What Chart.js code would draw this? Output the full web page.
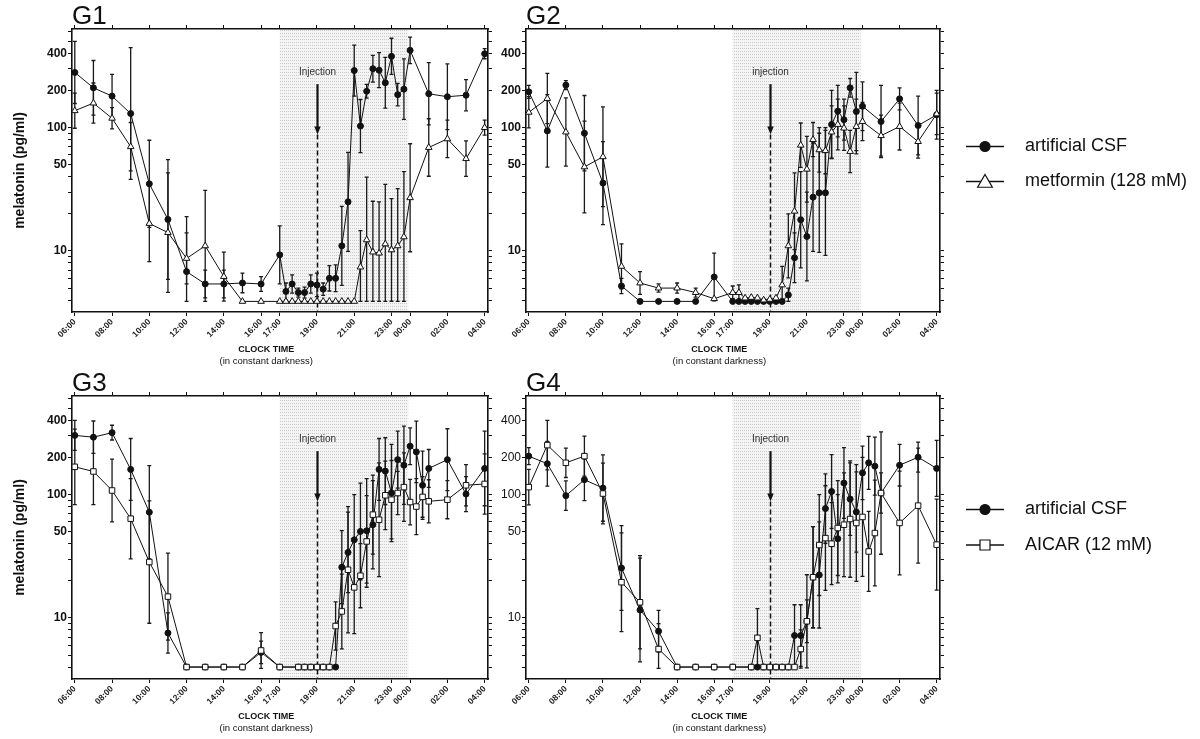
<!DOCTYPE html>
<html>
<head>
<meta charset="utf-8">
<script src="https://cdn.jsdelivr.net/npm/chart.js@4.4.1/dist/chart.umd.min.js"></script>
<style>
html, body { margin: 0; padding: 0; background: #fff; }
#wrap { position: relative; width: 1200px; height: 739px; overflow: hidden; }
canvas { position: absolute; }
</style>
</head>
<body>
<div id="wrap">
  <canvas id="g1" width="500" height="370" style="left:0px;top:0px"></canvas>
  <canvas id="g2" width="720" height="370" style="left:480px;top:0px"></canvas>
  <canvas id="g3" width="500" height="370" style="left:0px;top:367px"></canvas>
  <canvas id="g4" width="720" height="370" style="left:480px;top:367px"></canvas>
</div>
<script>
// sampling times, hours after 06:00 (hourly, every 20 min from 17:00 to 01:00, then hourly)
var hours = [0,1,2,3,4,5,6,7,8,9,10,11,11.333,11.667,12,12.333,12.667,13,13.333,13.667,14,14.333,14.667,
  15,15.333,15.667,16,16.333,16.667,17,17.333,17.667,18,18.333,18.667,19,20,21,22];

var tickHours = [0,2,4,6,8,10,11,13,15,17,18,20,22];
var tickLabels = ['06:00','08:00','10:00','12:00','14:00','16:00','17:00','19:00','21:00','23:00','00:00','02:00','04:00'];
var yTicks = [4,5,6,7,8,9,10,20,30,40,50,60,70,80,90,100,200,300,400,500,600];
var yLabelled = [10,50,100,200,400];

var darkFrom = 11, darkTo = 17.9;   // shaded part (17:00 - 00:00)
var injectAt = 13;                  // 19:00

// G1 : artificial CSF / metformin
var g1Csf = [280,210,180,130,35,18,6.8,5.4,5.4,5.5,5.4,
  9.3,4.7,5.4,4.6,4.6,5.4,5.3,4.9,6.0,6.0,11,25,290,103,197,300,292,231,378,185,205,423,null,null,
  188,178,183,397];
var g1CsfHi = [500,350,270,445,79,55,19,7,7,6.6,6.2,
  16,5.5,6.4,5,5.1,6.4,6.6,5.5,7.6,7.7,23,63,467,169,224,385,405,371,530,228,361,542,null,null,
  336,329,245,436];
var g1Met = [137,158,119,70,16.7,14.1,8.7,11,6.2,3.9,3.9,
  3.9,3.9,3.9,3.9,3.9,3.9,3.9,3.9,3.9,3.9,3.9,3.9,3.9,7.4,12.3,9.8,9.6,11.4,10.2,11,13,27,null,null,
  69,81,56,100];
var g1MetHi = [190,230,145,110,34,43,14,31,9.8,null,null,
  null,null,null,null,null,null,null,null,null,null,null,null,null,14.6,39.7,25.3,25,34.6,26.6,32,43.9,74,null,null,
  118,115,78,115];

// G2 : artificial CSF / metformin
var g2Csf = [195,94,221,90,35.5,5.2,3.9,3.9,3.9,3.9,6.15,
  3.9,3.9,3.9,3.9,3.9,3.9,3.9,3.9,3.9,4.4,8.8,17.9,13.1,27.3,29.6,29.6,106,136,116,210,135,149,null,null,
  112,171,104,127];
var g2CsfHi = [220,185,240,182,77,6,null,null,null,null,9.6,
  null,null,null,null,null,null,null,null,null,5,14,44,30,75,90,95,200,220,170,250,280,235,null,null,
  220,210,180,200];
var g2Met = [133,172,92,48,58,7.5,5.5,5.0,5.0,4.6,4.1,
  4.6,4.6,4.15,4.2,4.15,4.0,4.05,4.15,5.3,11,21,72,46,80,66,65,92,106,99,64,102,112,null,null,
  86,102,77,129];
var g2MetHi = [178,275,174,113,147,11.4,6.8,5.4,5.5,5.0,null,
  5.2,5.3,null,null,null,null,null,null,7.5,20,43,109,85,110,100,100,150,170,150,95,170,160,null,null,
  126,158,105,190];

// G3 : artificial CSF / AICAR
var g3Csf = [302,292,318,160,72,7.55,4,4,4,4,5.26,
  4,null,null,4,4,4,4,4,4,4,25.8,34,43,50.3,50.9,57,160,155,103,192,173,247,222,119,
  163,192,101,163];
var g3CsfHi = [400,395,365,285,172,11,null,null,null,null,6.5,
  null,null,null,null,null,null,null,null,null,null,51,72,100,124,135,130,285,289,255,327,359,348,394,225,
  232,342,140,327];
var g3Aic = [168,154,108,63.8,28.4,14.9,4,4,4,4,5.45,
  4,null,null,4,4,4,4,4,4,8.6,11.3,24.6,17.7,22,41.7,68.8,62.6,98.7,91,103,115,87,80,95.8,
  88.2,91,119,122];
var g3AicHi = [340,286,194,135,89,33.6,null,null,null,null,7.6,
  null,null,null,null,null,null,null,null,null,13.5,22.7,80,42,40,98,144,181,187,189,154,218,133,135,140,
  132,130,175,214];

// G4 : artificial CSF / AICAR
var g4Csf = [205,178,98,132,113,25.4,11.6,7.8,4,4,4,
  4,null,null,4,4,4,4,4,4,4,7.2,7.2,9.4,21.4,22.3,77,106,43.9,124,92,72.3,150,181,170,
  103,173,201,163];
var g4CsfHi = [240,270,129,195,210,56,30.6,11.5,null,null,null,
  null,null,null,null,null,null,null,null,null,null,12.8,12.8,22.4,55,60,147,211,100,240,181,153,247,297,292,
  323,255,266,275];
var g4Aic = [115,252,181,205,102,19.5,13.4,5.6,4,4,4,
  4,null,null,4,6.9,4,4,4,4,4,4,5.6,9.4,21.4,39,44.4,40,53.6,57,63.4,58.9,65.9,34.6,48.8,
  103,58.9,81.4,39.3];
var g4AicHi = [160,400,238,298,180,49,32,9,null,null,null,
  null,null,null,null,11.9,null,null,null,null,null,null,8,14,55,100,118,86,130,150,188,175,200,73,131,
  150,155,238,92];

var FONT = 'Arial, "Liberation Sans", Helvetica, sans-serif';
var INK = '#111';

function shadeFill(ctx) {
  var c = document.createElement('canvas');
  c.width = 2; c.height = 3;
  var p = c.getContext('2d');
  p.fillStyle = '#f4f4f4'; p.fillRect(0, 0, 2, 3);
  p.fillStyle = '#c9c9c9'; p.fillRect(0, 0, 1, 1);
  return ctx.createPattern(c, 'repeat');
}

function marker(ctx, style, x, y, r, fill) {
  ctx.beginPath();
  if (style === 'circle') {
    ctx.arc(x, y, r, 0, Math.PI * 2);
  } else if (style === 'triangle') {
    ctx.moveTo(x, y - r);
    ctx.lineTo(x + r * 0.866, y + r * 0.5);
    ctx.lineTo(x - r * 0.866, y + r * 0.5);
    ctx.closePath();
  } else {
    ctx.rect(x - r, y - r, 2 * r, 2 * r);
  }
  ctx.fillStyle = fill; ctx.fill();
  ctx.lineWidth = 1.2; ctx.strokeStyle = INK; ctx.stroke();
}

var panelPlugin = {
  id: 'panel',
  beforeDraw: function(chart, args, o) {
    var ctx = chart.ctx, a = chart.chartArea, x = chart.scales.x;
    var x0 = x.getPixelForValue(darkFrom), x1 = x.getPixelForValue(darkTo);
    ctx.save();
    ctx.fillStyle = shadeFill(ctx);
    ctx.fillRect(x0, a.top, x1 - x0, a.bottom - a.top);
    ctx.restore();
  },
  beforeDatasetsDraw: function(chart, args, o) {
    var ctx = chart.ctx, a = chart.chartArea, x = chart.scales.x, y = chart.scales.y;
    ctx.save();
    // injection marker
    var xi = Math.round(x.getPixelForValue(injectAt)) + 0.5;
    var yTip = y.getPixelForValue(88), yTop = y.getPixelForValue(225);
    ctx.strokeStyle = INK; ctx.fillStyle = INK;
    ctx.lineWidth = 1.5; ctx.setLineDash([5, 3]);
    ctx.beginPath(); ctx.moveTo(xi, yTip); ctx.lineTo(xi, a.bottom); ctx.stroke();
    ctx.setLineDash([]); ctx.lineWidth = 2.2;
    ctx.beginPath(); ctx.moveTo(xi, yTop); ctx.lineTo(xi, yTip - 6); ctx.stroke();
    ctx.beginPath(); ctx.moveTo(xi - 3.2, yTip - 8); ctx.lineTo(xi + 3.2, yTip - 8); ctx.lineTo(xi, yTip); ctx.closePath(); ctx.fill();
    ctx.fillStyle = '#333'; ctx.font = '10px ' + FONT;
    ctx.textAlign = 'center'; ctx.textBaseline = 'middle';
    ctx.fillText(o.injectText, xi, y.getPixelForValue(280));

    // error bars (symmetric on the log axis, cut at the assay floor)
    ctx.beginPath(); ctx.rect(a.left, a.top, a.right - a.left, a.bottom - a.top); ctx.clip();
    ctx.strokeStyle = '#1a1a1a'; ctx.lineWidth = 1.3;
    chart.data.datasets.forEach(function(ds) {
      ds.errHi.forEach(function(h, i) {
        var v = ds.data[i].y;
        if (h == null || v == null) return;
        var lo = Math.max(v * v / h, 3.9);
        var px = x.getPixelForValue(ds.data[i].x);
        var pt = y.getPixelForValue(h), pb = y.getPixelForValue(lo);
        ctx.beginPath();
        ctx.moveTo(px, pt); ctx.lineTo(px, pb);
        ctx.moveTo(px - 2, pt); ctx.lineTo(px + 2, pt);
        ctx.moveTo(px - 2, pb); ctx.lineTo(px + 2, pb);
        ctx.stroke();
      });
    });
    ctx.restore();
  },
  afterDraw: function(chart, args, o) {
    var ctx = chart.ctx, a = chart.chartArea;
    ctx.save();
    ctx.fillStyle = INK;
    ctx.textAlign = 'left'; ctx.textBaseline = 'alphabetic';
    ctx.font = '26px ' + FONT;
    ctx.fillText(o.title, a.left, 24);

    var cx = a.left + 0.467 * (a.right - a.left);
    ctx.textAlign = 'center'; ctx.textBaseline = 'middle';
    ctx.font = 'bold 9px ' + FONT;
    ctx.fillText('CLOCK TIME', cx, a.bottom + 38);
    ctx.font = '9.5px ' + FONT;
    ctx.fillText('(in constant darkness)', cx, a.bottom + 49);

    if (o.legend) {
      var lx = a.right + 26;
      chart.data.datasets.forEach(function(ds, k) {
        var ly = o.legendY[k];
        ctx.strokeStyle = INK; ctx.lineWidth = 1.5;
        ctx.beginPath(); ctx.moveTo(lx, ly); ctx.lineTo(lx + 38, ly); ctx.stroke();
        var r = ds.pointStyle === 'circle' ? 5 : (ds.pointStyle === 'triangle' ? 8.5 : 5);
        marker(ctx, ds.pointStyle, lx + 19, ly + (ds.pointStyle === 'triangle' ? 1.5 : 0), r, ds.pointBackgroundColor);
        ctx.fillStyle = INK; ctx.font = '18px ' + FONT;
        ctx.textAlign = 'left'; ctx.textBaseline = 'middle';
        ctx.fillText(ds.label, lx + 59, ly);
      });
    }
    ctx.restore();
  }
};

function axisBox(pos, type, showLabels, extra) {
  var s = {
    type: type, position: pos, display: true,
    grid: { drawOnChartArea: false, drawTicks: true, tickLength: 4, color: INK, lineWidth: 1 },
    border: { display: true, color: INK, width: 1.6 },
    ticks: { display: showLabels, autoSkip: false }
  };
  for (var k in extra) s[k] = extra[k];
  return s;
}

function panel(id, cfg) {
  var sets = cfg.series.map(function(s, k) {
    return {
      label: s.name,
      data: hours.map(function(h, i) { return { x: h, y: s.values[i] }; }),
      errHi: s.hi,
      order: k === 0 ? 1 : 0,          // open markers drawn over the filled ones
      borderColor: INK, borderWidth: 1,
      pointStyle: s.style, pointRadius: s.r,
      pointBackgroundColor: s.fill, pointBorderColor: INK, pointBorderWidth: 1,
      spanGaps: true, tension: 0
    };
  });

  var xTickSet = function(axis) { axis.ticks = tickHours.map(function(v) { return { value: v }; }); };
  var yTickSet = function(axis) { axis.ticks = yTicks.map(function(v) { return { value: v }; }); };

  var x = axisBox('bottom', 'linear', true, { min: -0.15, max: 22.18, afterBuildTicks: xTickSet,
    afterFit: function(axis) { axis.height = 58; } });
  x.ticks.minRotation = 45; x.ticks.maxRotation = 45; x.ticks.padding = 1;
  x.ticks.color = '#222';
  x.ticks.font = { family: FONT, size: 8.5, weight: 'bold' };
  x.ticks.callback = function(v) { return tickLabels[tickHours.indexOf(v)]; };

  var x2 = axisBox('top', 'linear', false, { min: -0.15, max: 22.18, afterBuildTicks: xTickSet,
    afterFit: function(axis) { axis.height = 29; } });

  var y = axisBox('left', 'logarithmic', true, { min: 3.2, max: 630, afterBuildTicks: yTickSet,
    afterFit: function(axis) { axis.width = cfg.left; } });
  y.ticks.padding = 1; y.ticks.color = INK;
  y.ticks.font = { family: FONT, size: 12, weight: cfg.boldY ? 'bold' : 'normal' };
  y.ticks.callback = function(v) { return yLabelled.indexOf(v) >= 0 ? String(v) : ''; };
  y.title = { display: cfg.yTitle, text: 'melatonin (pg/ml)', color: INK,
    font: { family: FONT, size: 14, weight: 'bold' }, padding: { top: 12, bottom: 0 } };

  var y2 = axisBox('right', 'logarithmic', false, { min: 3.2, max: 630, afterBuildTicks: yTickSet,
    afterFit: function(axis) { axis.width = cfg.right; } });

  return new Chart(document.getElementById(id).getContext('2d'), {
    type: 'line',
    data: { datasets: sets },
    options: {
      responsive: false, animation: false, events: [],
      layout: { padding: 0 },
      scales: { x: x, x2: x2, y: y, y2: y2 },
      plugins: {
        legend: { display: false }, tooltip: { enabled: false },
        panel: { title: cfg.title, injectText: cfg.inject, legend: cfg.legend, legendY: cfg.legendY }
      }
    },
    plugins: [panelPlugin]
  });
}

var csf = 'artificial CSF';
panel('g1', { title: 'G1', inject: 'Injection', left: 72, right: 12, yTitle: true, boldY: true, legend: false,
  series: [
    { name: csf, values: g1Csf, hi: g1CsfHi, style: 'circle', r: 3, fill: INK },
    { name: 'metformin (128 mM)', values: g1Met, hi: g1MetHi, style: 'triangle', r: 3.8, fill: '#fff' }
  ] });
panel('g2', { title: 'G2', inject: 'injection', left: 46, right: 260, yTitle: false, boldY: true,
  legend: true, legendY: [146.5, 181.5],
  series: [
    { name: csf, values: g2Csf, hi: g2CsfHi, style: 'circle', r: 3, fill: INK },
    { name: 'metformin (128 mM)', values: g2Met, hi: g2MetHi, style: 'triangle', r: 3.8, fill: '#fff' }
  ] });
panel('g3', { title: 'G3', inject: 'Injection', left: 72, right: 12, yTitle: true, boldY: true, legend: false,
  series: [
    { name: csf, values: g3Csf, hi: g3CsfHi, style: 'circle', r: 3, fill: INK },
    { name: 'AICAR (12 mM)', values: g3Aic, hi: g3AicHi, style: 'rect', r: 3.9, fill: '#fff' }
  ] });
panel('g4', { title: 'G4', inject: 'Injection', left: 46, right: 260, yTitle: false, boldY: false,
  legend: true, legendY: [142.5, 178],
  series: [
    { name: csf, values: g4Csf, hi: g4CsfHi, style: 'circle', r: 3, fill: INK },
    { name: 'AICAR (12 mM)', values: g4Aic, hi: g4AicHi, style: 'rect', r: 3.9, fill: '#fff' }
  ] });
</script>
</body>
</html>
